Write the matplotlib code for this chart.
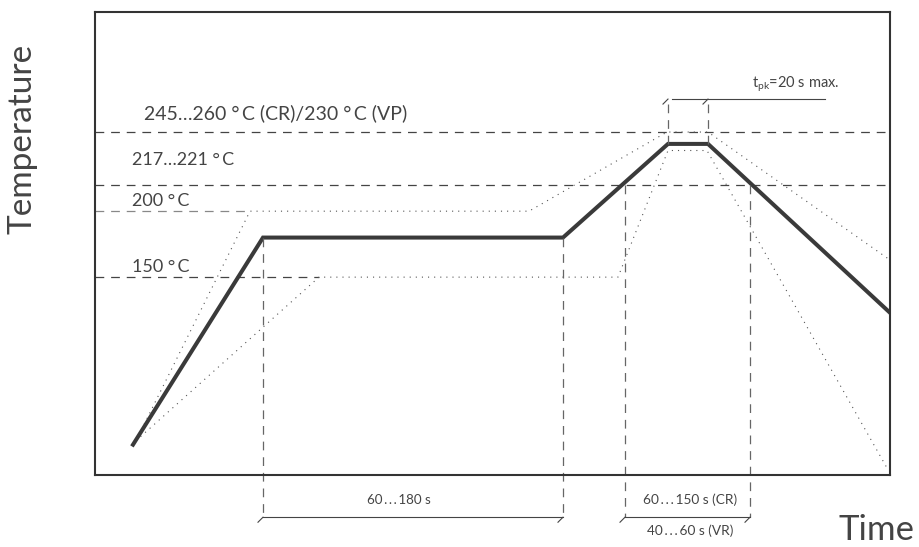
import numpy as np
import matplotlib
matplotlib.use("Agg")
import matplotlib.pyplot as plt

plt.rcParams['font.family'] = ['Lato', 'DejaVu Sans']
plt.rcParams['mathtext.fontset'] = 'custom'
plt.rcParams['mathtext.rm'] = 'Lato'

# schematic reflow profile (time in arbitrary units, temperature in degC)
profile_t = [38, 168, 468, 573, 613, 795]
profile_T = [23, 180, 180, 251, 251, 123]

upper_t = [41, 155, 434, 572, 613, 795]
upper_T = [26, 200, 200, 260, 260, 163]

lower_t = [41, 224, 523, 573, 612, 793]
lower_T = [26, 150, 150, 246, 246, 4]

ts = '\u2009'
levels = [260, 220, 200, 150]
level_ends = [795, 795, 155, 224]
level_labels = [f"245…260 °{ts}C (CR)/230 °{ts}C (VP)", f"217…221 °{ts}C",
                f"200 °{ts}C", f"150 °{ts}C"]
label_t = [49, 37, 37, 37]
label_T = [274, 238.5, 208, 157.5]
label_size = [14, 13, 13, 13]

soak_t = [168, 468]
liquidus_t = [530, 655]
peak_t = [573, 613]
dim_T = -32
peak_dim_T = 285

TXT = '#444444'
LINE = '#3a3a3a'

fig = plt.figure(figsize=(9.2, 5.47), dpi=100)
ax = fig.add_axes([95 / 920, 72 / 547, 795 / 920, 463 / 547])
ax.set_xlim(0, 795)
ax.set_ylim(0, 351)
ax.set_xticks([])
ax.set_yticks([])
for s in ax.spines.values():
    s.set_linewidth(1.5)
    s.set_color('#333333')

# reference levels
for lvl, end in zip(levels, level_ends):
    col = '#888888' if lvl == 200 else '#444444'
    ax.plot([0, end], [lvl, lvl], color=col, lw=0.9, dashes=(7, 5.5))
for lab, tx, ty, fs in zip(level_labels, label_t, label_T, label_size):
    ax.text(tx, ty, lab, fontsize=fs, color=TXT, ha='left', va='center')

# envelopes
dot = dict(color='#555555', lw=0.8, linestyle=(0, (1, 4.5)))
ax.plot(upper_t, upper_T, **dot)
ax.plot(lower_t, lower_T, **dot)

# main profile
ax.plot(profile_t, profile_T, color=LINE, lw=2.9, solid_joinstyle='miter')

# vertical dimension guides
vd = dict(color='#666666', lw=0.9, dashes=(7, 5.5), clip_on=False)
for t in soak_t:
    ax.plot([t, t], [180, dim_T], **vd)
for t in liquidus_t:
    ax.plot([t, t], [220, dim_T], **vd)
for t in peak_t:
    ax.plot([t, t], [251, peak_dim_T], **vd)

# dimension bars
bar = dict(color='#444444', lw=0.8, clip_on=False)

def dim_bar(t0, t1, T):
    ax.plot([t0, t1], [T, T], **bar)
    for t in (t0, t1):
        ax.plot([t - 5, t], [T - 3.8, T], **bar)

dim_bar(soak_t[0], soak_t[1], dim_T)
dim_bar(liquidus_t[0], liquidus_t[1], dim_T)
ax.plot([peak_t[0] + 4, 730], [peak_dim_T, peak_dim_T], **bar)
for t in peak_t:
    ax.plot([t - 5, t], [peak_dim_T - 3.8, peak_dim_T], **bar)

dots = ts + '.' + ts + '.' + ts + '.' + ts
ax.text(304, -19, f"60{dots}180 s", fontsize=9.6, color=TXT,
        ha='center', va='center', clip_on=False)
ax.text(595, -19, f"60{dots}150 s (CR)", fontsize=9.8, color=TXT,
        ha='center', va='center', clip_on=False)
ax.text(595, -42.5, f"40{dots}60 s (VR)", fontsize=9.8, color=TXT,
        ha='center', va='center', clip_on=False)
ax.text(657, 296, r"t$_{\mathrm{pk}}$=20 s max.", fontsize=10.5, color=TXT,
        ha='left', va='center', clip_on=False)

ax.text(-72, 255, "Temperature", fontsize=24, color=TXT, rotation=90,
        ha='center', va='center', clip_on=False)
ax.text(782, -42, "Time", fontsize=25, color=TXT,
        ha='center', va='center', clip_on=False)

fig.savefig("out.png", dpi=100)
